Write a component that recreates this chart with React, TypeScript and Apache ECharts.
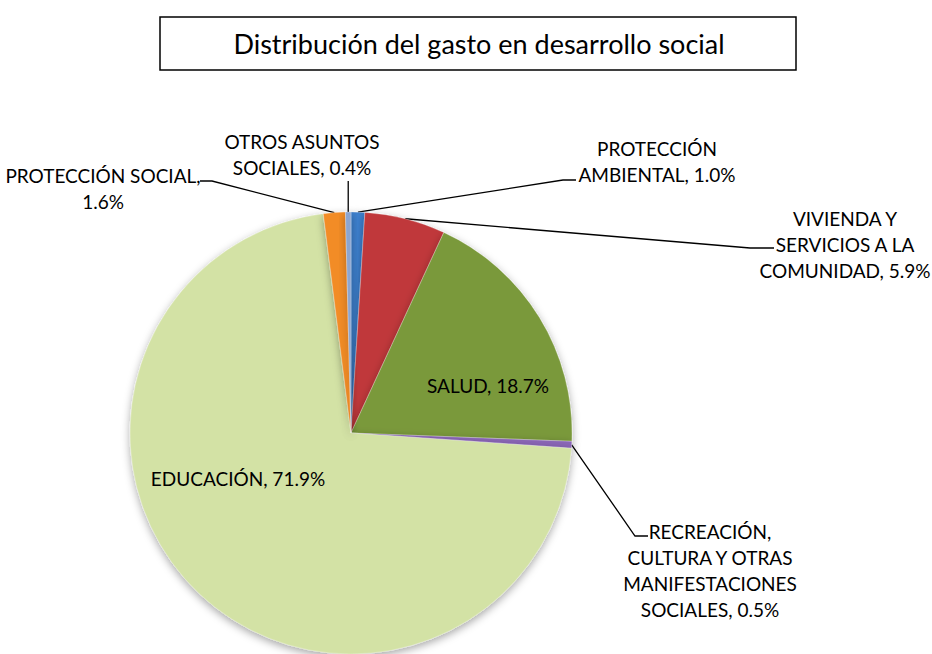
import React, { useEffect, useRef } from "react";
import * as echarts from "echarts";

const titleText = "Distribución del gasto en desarrollo social";

const categories = [
  "PROTECCIÓN AMBIENTAL",
  "VIVIENDA Y SERVICIOS A LA COMUNIDAD",
  "SALUD",
  "RECREACIÓN, CULTURA Y OTRAS MANIFESTACIONES SOCIALES",
  "EDUCACIÓN",
  "PROTECCIÓN SOCIAL",
  "OTROS ASUNTOS SOCIALES",
];
const values = [1.0, 5.9, 18.7, 0.5, 71.9, 1.6, 0.4];
const labelNames = [
  "PROTECCIÓN\nAMBIENTAL, ",
  "VIVIENDA Y\nSERVICIOS A LA\nCOMUNIDAD, ",
  "SALUD, ",
  "RECREACIÓN,\nCULTURA Y OTRAS\nMANIFESTACIONES\nSOCIALES, ",
  "EDUCACIÓN, ",
  "PROTECCIÓN SOCIAL,\n",
  "OTROS ASUNTOS\nSOCIALES, ",
];
const colors = ["#3d7fcd", "#c0393b", "#7a993a", "#8a66b6", "#d3e2a5", "#f28c26", "#8ca6d1"];
const insideLabels = [false, false, true, false, true, false, false];

export default function App() {
  const ref = useRef<HTMLDivElement>(null);
  useEffect(() => {
    if (!ref.current) return;
    const chart = echarts.init(ref.current, null, { renderer: "svg" });
    const font = "Lato, 'Open Sans', sans-serif";
    chart.setOption({
      animation: false,
      backgroundColor: "#ffffff",
      graphic: [
        {
          type: "rect",
          shape: { x: 160, y: 17, width: 636, height: 53 },
          style: { fill: "#ffffff", stroke: "#000000", lineWidth: 1.5 },
        },
        {
          type: "text",
          x: 479,
          y: 43,
          style: {
            text: titleText,
            fontFamily: font,
            fontSize: 27,
            fill: "#000000",
            textAlign: "center",
            textVerticalAlign: "middle",
          },
        },
      ],
      series: [
        {
          type: "pie",
          center: [351, 433],
          radius: 221,
          startAngle: 90,
          clockwise: true,
          avoidLabelOverlap: false,
          emphasis: { disabled: true },
          itemStyle: {
            shadowBlur: 8,
            shadowOffsetY: 3,
            shadowColor: "rgba(0,0,0,0.35)",
            borderColor: "rgba(255,255,255,0.5)",
            borderWidth: 0.5,
          },
          label: {
            show: true,
            position: "outside",
            color: "#000000",
            fontFamily: font,
            fontSize: 19,
            lineHeight: 26,
            formatter: (p: any) => labelNames[p.dataIndex] + values[p.dataIndex].toFixed(1) + "%",
          },
          labelLine: {
            show: true,
            length: 20,
            length2: 10,
            lineStyle: { color: "#000000", width: 1.3 },
          },
          labelLayout: (p: any) => {
            const i = p.dataIndex;
            const pts = p.labelLinePoints;
            const p0 = pts ? [pts[0][0], pts[0][1]] : [0, 0];
            const base = { align: "center", verticalAlign: "middle" };
            switch (i) {
              case 0:
                return { ...base, x: 657, y: 161, labelLinePoints: [p0, [563, 180], [576, 180]] };
              case 1:
                return { ...base, x: 845, y: 244, labelLinePoints: [p0, [750, 248], [774, 248]] };
              case 2:
                return { ...base, x: 488, y: 385 };
              case 3:
                return { ...base, x: 710, y: 570, labelLinePoints: [p0, [635, 536], [648, 536]] };
              case 4:
                return { ...base, x: 238, y: 478 };
              case 5:
                return { ...base, x: 103, y: 188, labelLinePoints: [p0, [212, 181], [200, 181]] };
              case 6:
                return { ...base, x: 302, y: 154, labelLinePoints: [p0, [p0[0], 181]] };
            }
            return {};
          },
          data: categories.map((c, i) => ({
            name: c,
            value: values[i],
            itemStyle: { color: colors[i] },
            labelLine: { show: !insideLabels[i] },
          })),
        },
      ],
    });
    return () => chart.dispose();
  }, []);
  return (
    <div
      ref={ref}
      style={{ position: "fixed", left: 0, top: 0, width: 932, height: 654 }}
    />
  );
}
